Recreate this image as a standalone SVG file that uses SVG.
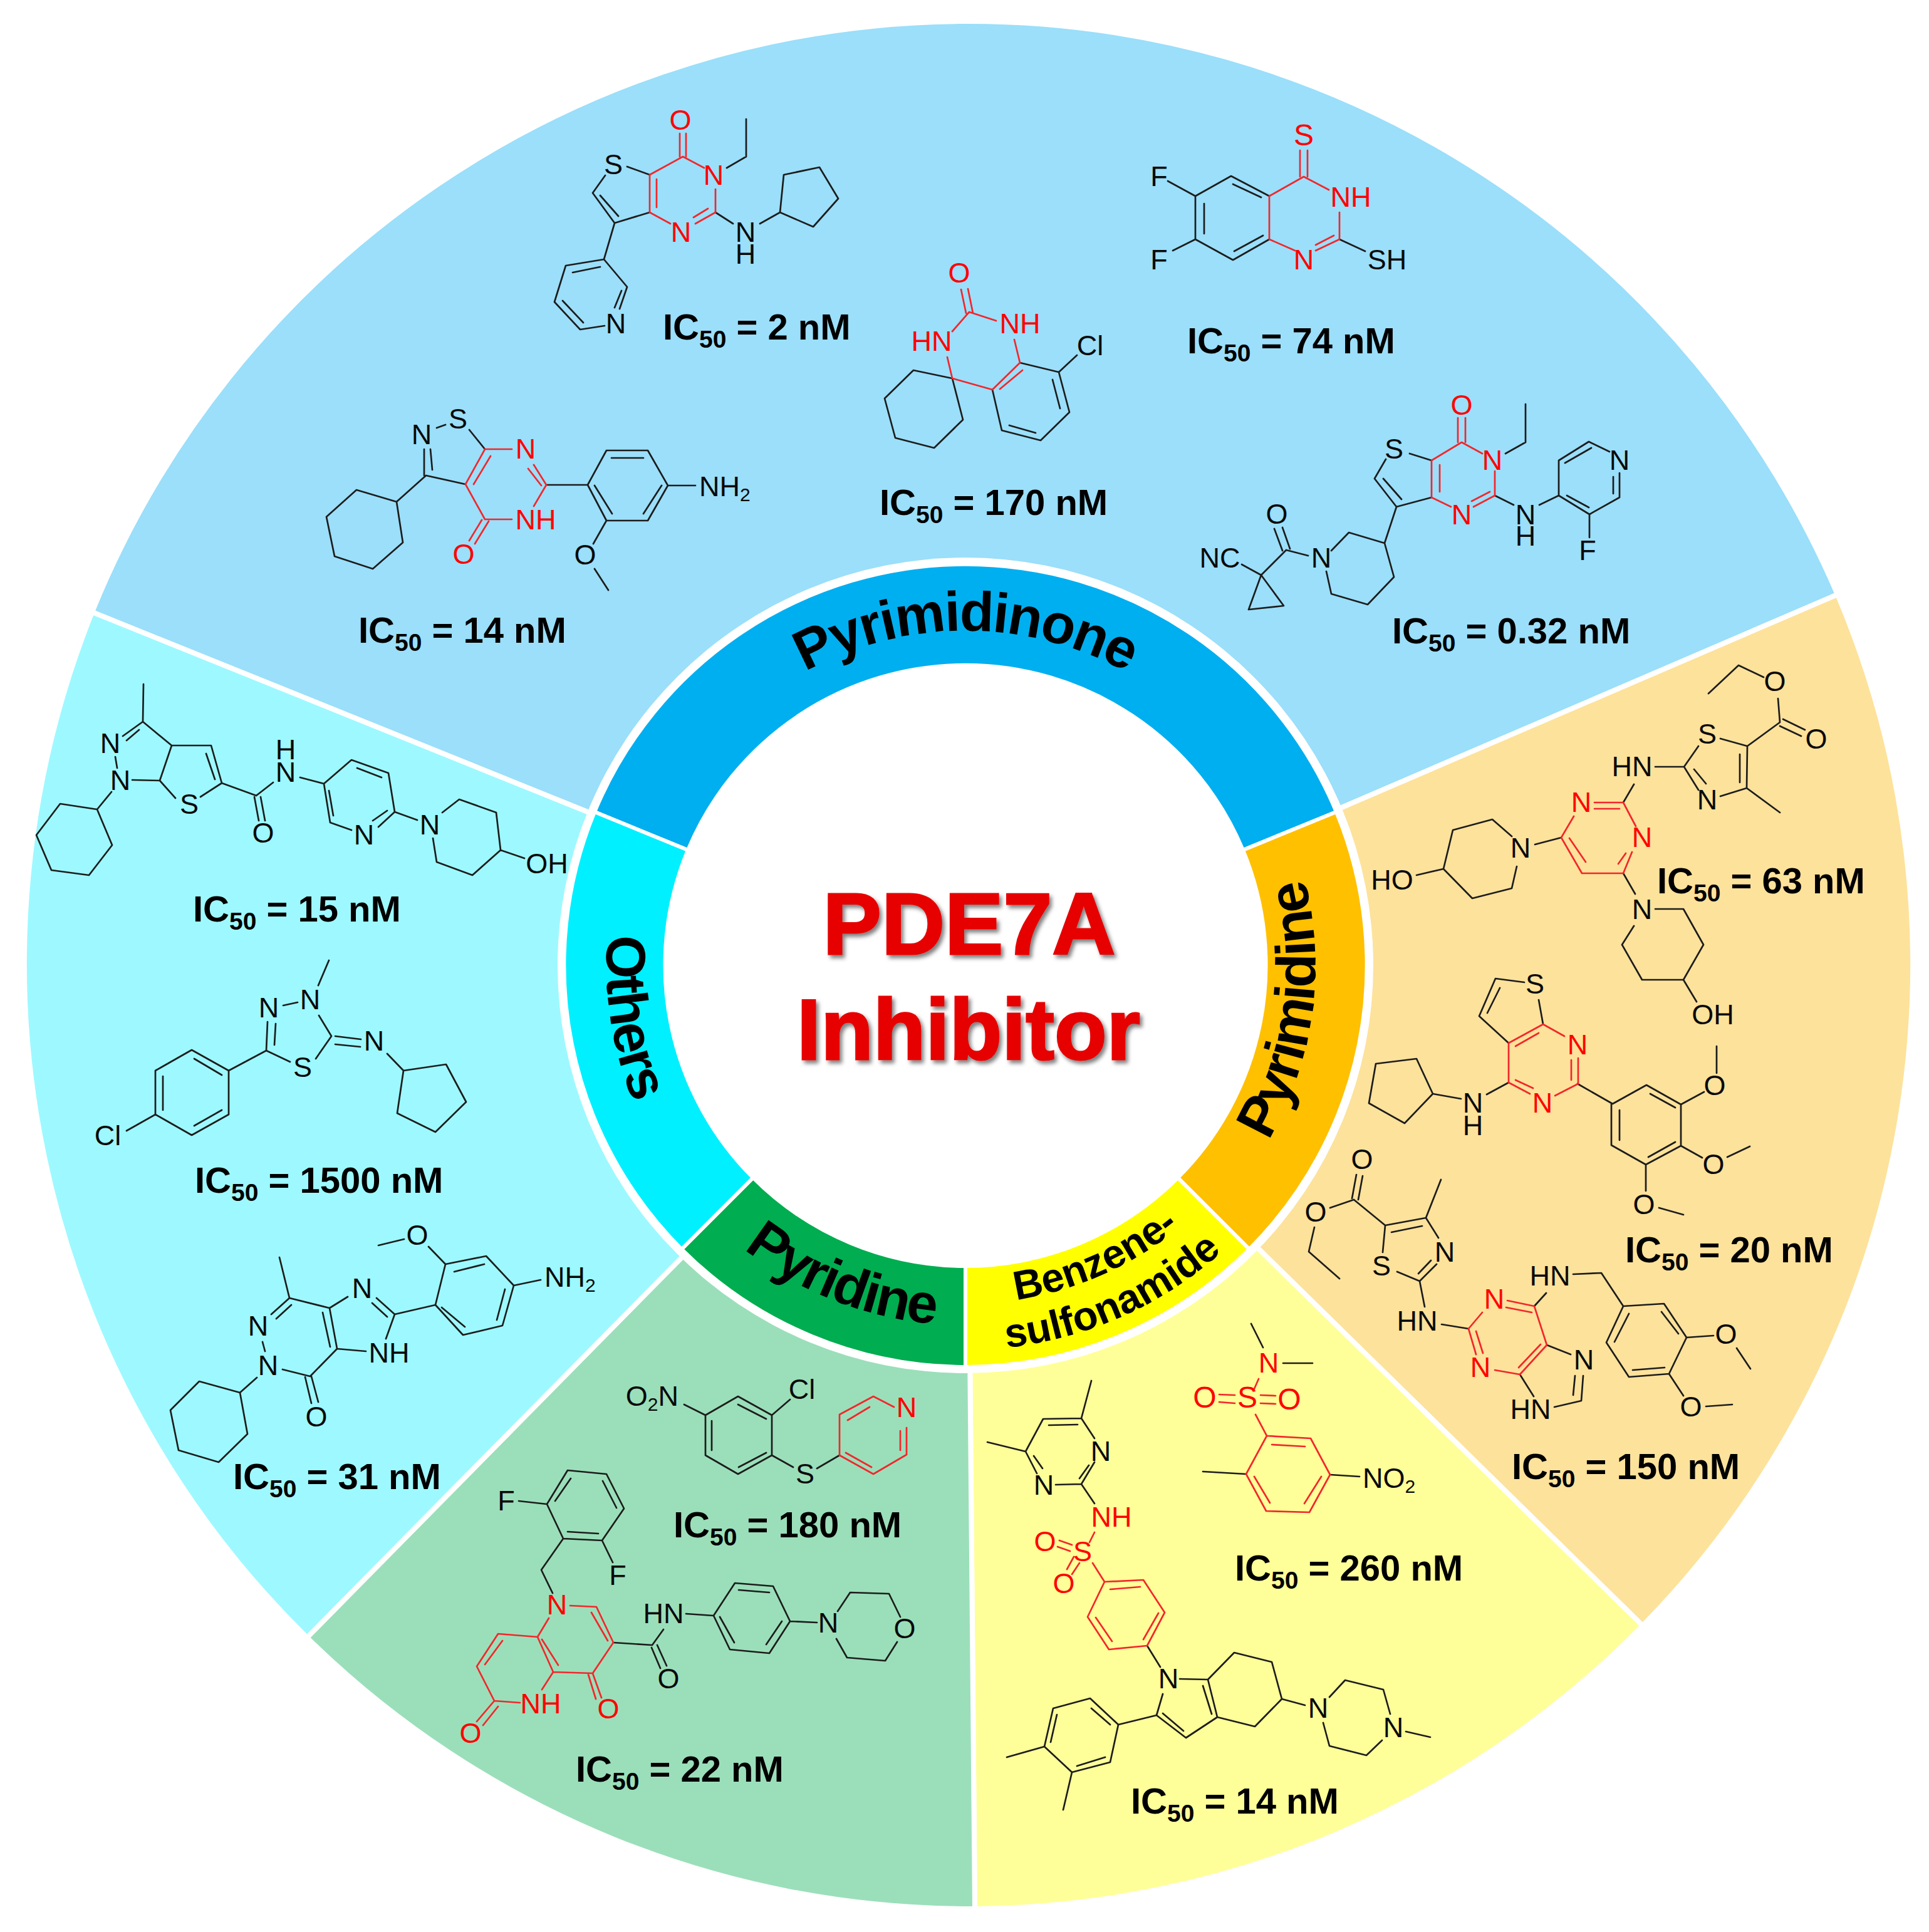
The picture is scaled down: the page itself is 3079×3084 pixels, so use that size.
<svg xmlns="http://www.w3.org/2000/svg" xmlns:xlink="http://www.w3.org/1999/xlink" width="3079" height="3084" viewBox="0 0 3079 3084">
<style>
text{font-family:"Liberation Sans",Arial,sans-serif}
.sec{stroke:#fff;stroke-width:8}
.ring{stroke:#fff;stroke-width:6}
.b,.r{fill:none;stroke-width:2.7;stroke-linecap:round;stroke-linejoin:round}
.b{stroke:#1c1c1c}
.r{stroke:#f3262b}
.a{font-size:45px;text-anchor:middle;fill:#0a0a0a}
.ar{font-size:45px;text-anchor:middle;fill:#f00}
.s{text-anchor:start}
.e{text-anchor:end}
.u{font-size:30px}
.l{font-size:58px;font-weight:bold;fill:#000}
.lu{font-size:39px}
.c{font-size:89px;font-weight:bold;fill:#000;text-anchor:middle;letter-spacing:-2.5px}
.c2{font-size:65px;font-weight:bold;fill:#000;text-anchor:middle}
.t{font-weight:bold;fill:#e60000;text-anchor:middle;stroke:#e60000;stroke-width:3;filter:url(#sh)}
</style>
<defs>
<filter id="sh" x="-10%" y="-20%" width="120%" height="150%"><feDropShadow dx="4" dy="5" stdDeviation="3" flood-color="#000" flood-opacity=".5"/></filter>
<path id="p1" d="M1079 1274A533 533 0 0 1 2003 1274"/>
<path id="p2" d="M1079 1202A573 573 0 0 0 1202 2003"/>
<path id="p3" d="M1877 1987A558 558 0 0 0 1987 1205"/>
<path id="p4" d="M1014 1770A575 575 0 0 0 1770 2068"/>
<path id="p5" d="M1347 2045A540 540 0 0 0 2045 1735"/>
<path id="p6" d="M1321 2114A614 614 0 0 0 2114 1761"/>
</defs>
<rect width="3079" height="3084" fill="#fff"/>
<g id="sectors">
<path class="sec" fill="#9bdffa" d="M147 977A1509 1509 0 0 1 2933 949L2116 1300L1545 1540L970 1309Z"/>
<path class="sec" fill="#fde29b" d="M2933 949A1509 1509 0 0 1 2622 2595L1990 1975L1545 1540L2116 1300Z"/>
<path class="sec" fill="#ffff99" d="M2622 2595A1509 1509 0 0 1 1556 3047L1548 2150L1545 1540L1990 1975Z"/>
<path class="sec" fill="#9bdfba" d="M1556 3047A1509 1509 0 0 1 490 2614L1110 1985L1545 1540L1548 2150Z"/>
<path class="sec" fill="#9df9ff" d="M490 2614A1509 1509 0 0 1 147 977L970 1309L1545 1540L1110 1985Z"/>
</g>
<circle cx="1541" cy="1541" r="651" fill="#fff"/>
<g id="ring">
<path class="ring" fill="#00aff0" d="M949 1296A641 641 0 0 1 2133 1296L1984 1357A480 480 0 0 0 1098 1357Z"/>
<path class="ring" fill="#ffc000" d="M2133 1296A641 641 0 0 1 1994 1994L1880 1880A480 480 0 0 0 1984 1357Z"/>
<path class="ring" fill="#ffff00" d="M1994 1994A641 641 0 0 1 1541 2182V2021A480 480 0 0 0 1880 1880Z"/>
<path class="ring" fill="#00ad50" d="M1541 2182A641 641 0 0 1 1088 1994L1202 1880A480 480 0 0 0 1541 2021Z"/>
<path class="ring" fill="#00f0ff" d="M1088 1994A641 641 0 0 1 949 1296L1098 1357A480 480 0 0 0 1202 1880Z"/>
<text class="c"><textPath href="#p1" startOffset="50%">Pyrimidinone</textPath></text>
<text class="c"><textPath href="#p2" startOffset="50%">Others</textPath></text>
<text class="c"><textPath href="#p3" startOffset="50%">Pyrimidine</textPath></text>
<text class="c"><textPath href="#p4" startOffset="50%">Pyridine</textPath></text>
<text class="c2"><textPath href="#p5" startOffset="50%">Benzene-</textPath></text>
<text class="c2"><textPath href="#p6" startOffset="50%">sulfonamide</textPath></text>
</g>
<g id="title">
<text class="t" x="1547" y="1523" font-size="140">PDE7A</text>
<text class="t" x="1546" y="1691" font-size="137">Inhibitor</text>
</g>
<g id="connectors"></g>
<g id="mol-2nM">
<path class="b" d="M1037 279L1001 266M966 280L946 308L981 356L1037 339M958 312L987 345M981 356L964 414L903 424L885 482L926 526L965 520M964 414L1001 458L989 493M992 464L981 491M914 435L958 426M898 480L931 515M1160 268L1191 250V190M1142 339L1170 357M1213 357L1245 339L1251 279L1308 267L1338 317L1298 362L1245 339"/>
<path class="r" d="M1085 213V250M1095 213V250M1037 279L1090 250L1124 268M1142 302V339L1110 357M1130 333L1107 347M1037 339L1070 357M1037 279V339M1048 286V331"/>
<text class="ar" x="1086" y="207">O</text><text class="ar" x="1139" y="295">N</text><text class="ar" x="1087" y="386">N</text>
<text class="a" x="979" y="278">S</text><text class="a" x="983" y="532">N</text><text class="a"><tspan x="1190" y="386">N</tspan><tspan x="1190" y="421">H</tspan></text>
<text class="l" x="1058" y="542">IC<tspan class="lu" dy="13">50</tspan><tspan dy="-13"> = 2 nM</tspan></text>
</g>
<g id="mol-170nM">
<path class="b" d="M1520 604L1458 591L1412 636L1429 699L1491 715L1537 670L1520 604M1628 579L1690 594L1707 658L1661 703L1599 687L1584 622M1680 606L1692 652M1653 691L1611 679M1690 594L1719 567"/>
<path class="r" d="M1545 461L1553 500M1534 462L1542 500M1590 512L1547 498L1520 529M1512 570L1520 604L1584 622L1628 579L1619 542M1632 591L1596 621"/>
<text class="ar" x="1531" y="451">O</text><text class="ar" x="1628" y="532">NH</text><text class="ar" x="1487" y="560">HN</text><text class="a" x="1740" y="567">Cl</text>
<text class="l" x="1404" y="822">IC<tspan class="lu" dy="13">50</tspan><tspan dy="-13"> = 170 nM</tspan></text>
</g>
<g id="mol-74nM">
<path class="b" d="M2026 313L1965 281L1908 313V382L1968 415L2026 382M1968 294L2013 315M1922 325V373M1970 401L2016 376M1864 289L1908 313M1872 400L1908 382M2138 382L2179 401"/>
<path class="r" d="M2075 240V282M2087 240V282M2026 313L2081 282L2121 303M2138 339V382L2100 400M2129 376L2100 391M2067 400L2026 382V313"/>
<text class="ar" x="2081" y="232" style="font-size:48px">S</text><text class="ar" x="2156" y="330">NH</text><text class="ar" x="2081" y="430">N</text>
<text class="a" x="1850" y="297">F</text><text class="a" x="1850" y="430">F</text><text class="a" x="2214" y="430">SH</text>
<text class="l" x="1895" y="564">IC<tspan class="lu" dy="13">50</tspan><tspan dy="-13"> = 74 nM</tspan></text>
</g>
<g id="mol-032nM">
<path class="b" d="M2285 735L2250 724M2212 733L2194 764L2229 809L2285 794M2208 764L2237 797M2403 724L2435 706V645M2386 791L2416 806M2457 806L2488 791V735L2536 705L2569 721M2585 755V794L2537 821L2488 791M2498 739L2540 715M2575 761V788M2501 791L2536 810M2537 821V858M2229 809L2210 867L2153 850L2125 879M2117 912L2125 948L2183 965L2225 921L2210 867M2088 887L2053 878M2047 842L2059 876M2034 844L2047 879M2053 878L2013 918L1982 901M2013 918L1993 973L2049 967L2013 918"/>
<path class="r" d="M2327 667V706M2339 667V706M2285 735L2333 706L2366 724M2386 752V791L2352 809M2378 785L2349 800M2316 809L2285 794V735M2298 742V785"/>
<text class="ar" x="2333" y="662">O</text><text class="ar" x="2382" y="750">N</text><text class="ar" x="2333" y="837">N</text>
<text class="a" x="2225" y="732">S</text><text class="a"><tspan x="2435" y="837">N</tspan><tspan x="2435" y="871">H</tspan></text><text class="a" x="2585" y="750">N</text><text class="a" x="2534" y="894">F</text><text class="a" x="2109" y="906">N</text><text class="a" x="2038" y="836">O</text><text class="a" x="1947" y="906">NC</text>
<text class="l" x="2222" y="1027">IC<tspan class="lu" dy="13">50</tspan><tspan dy="-13"> = 0.32 nM</tspan></text>
</g>
<g id="mol-14nM-a">
<path class="b" d="M697 683L711 678M749 686L774 717M680 759L743 773M677 717V759M687 717L690 750M680 759L633 801L569 782L521 825L534 888L595 908L643 866L633 801M872 774H938L968 719H1034L1066 775L1034 831H968L938 774M976 731H1027M1056 775L1027 820M977 820L949 775M1066 775H1110M968 831L947 868M949 908L971 942"/>
<path class="r" d="M774 717H817M774 717L743 773L774 829H817M783 728L756 773M852 742L872 774L852 808M843 748L864 775M769 830L749 863M780 832L758 868"/>
<text class="ar" x="839" y="732">N</text><text class="ar" x="855" y="845">NH</text><text class="ar" x="740" y="900">O</text>
<text class="a" x="731" y="684">S</text><text class="a" x="673" y="709">N</text><text class="a" x="934" y="901">O</text><text class="a s" x="1116" y="792">NH<tspan class="u" dy="8">2</tspan></text>
<text class="l" x="572" y="1026">IC<tspan class="lu" dy="13">50</tspan><tspan dy="-13"> = 14 nM</tspan></text>
</g>
<g id="mol-63nM">
<path class="b" d="M2727 1107L2775 1062L2815 1081M2838 1115L2841 1153M2846 1148L2881 1165M2841 1159L2875 1175M2841 1153L2789 1191L2746 1179M2789 1191L2788 1258L2746 1271M2711 1191L2688 1224L2711 1261M2704 1228L2723 1251M2777 1204V1249M2788 1258L2841 1297M2642 1224H2688M2608 1252L2591 1281M2492 1337L2450 1348M2413 1335L2382 1308L2319 1325L2304 1387L2350 1434L2413 1418L2421 1383M2261 1397L2304 1387M2591 1394L2610 1427M2642 1451H2687L2719 1508L2687 1564H2621L2589 1508L2608 1478M2687 1564L2708 1599"/>
<path class="r" d="M2545 1281H2591L2611 1319M2545 1291H2585M2605 1360L2591 1394H2525L2492 1337L2512 1303M2595 1362L2583 1379M2531 1376L2505 1338"/>
<text class="ar" x="2524" y="1296">N</text><text class="ar" x="2621" y="1352">N</text>
<text class="a" x="2833" y="1103">O</text><text class="a" x="2899" y="1195">O</text><text class="a" x="2725" y="1187">S</text><text class="a" x="2725" y="1292">N</text><text class="a" x="2605" y="1239">HN</text><text class="a" x="2427" y="1369">N</text><text class="a" x="2222" y="1420">HO</text><text class="a" x="2621" y="1467">N</text><text class="a" x="2734" y="1635">OH</text>
<text class="l" x="2645" y="1426">IC<tspan class="lu" dy="13">50</tspan><tspan dy="-13"> = 63 nM</tspan></text>
</g>
<g id="mol-20nM">
<path class="b" d="M2433 1568L2387 1562L2361 1622L2408 1665M2394 1577L2374 1617M2456 1596L2463 1635M2408 1728L2373 1747M2332 1754L2287 1746L2261 1690L2196 1698L2185 1761L2242 1793L2287 1746M2518 1730L2574 1762L2628 1732L2683 1763V1829L2627 1859L2572 1828V1762M2634 1746L2674 1768M2585 1772V1820M2674 1823L2631 1847M2683 1763L2720 1743M2740 1713V1670M2683 1829L2717 1848M2757 1847L2793 1830M2627 1859V1901M2648 1928L2687 1939"/>
<path class="r" d="M2408 1665L2463 1635L2497 1654M2419 1670L2456 1649M2508 1692V1724M2519 1689V1730L2482 1749M2442 1746L2408 1728V1665M2447 1737L2419 1724"/>
<text class="ar" x="2518" y="1683">N</text><text class="ar" x="2462" y="1776">N</text>
<text class="a" x="2450" y="1586">S</text><text class="a"><tspan x="2351" y="1776">N</tspan><tspan x="2351" y="1812">H</tspan></text><text class="a" x="2737" y="1748">O</text><text class="a" x="2735" y="1874">O</text><text class="a" x="2624" y="1938">O</text>
<text class="l" x="2594" y="2015">IC<tspan class="lu" dy="13">50</tspan><tspan dy="-13"> = 20 nM</tspan></text>
</g>
<g id="mol-150nM">
<path class="b" d="M2165 1875L2158 1913M2175 1877L2168 1915M2123 1928L2161 1915M2098 1959L2089 1998L2138 2041M2161 1915L2211 1956L2276 1944L2296 1976M2221 1967L2270 1957M2211 1956L2207 1999M2230 2030L2266 2045L2293 2018M2264 2033L2284 2012M2276 1944L2300 1883M2266 2045L2274 2086M2301 2114L2344 2121M2468 2064L2449 2085M2511 2034L2556 2032L2591 2085L2656 2081L2692 2135L2664 2193L2600 2198L2564 2143L2591 2085M2652 2094L2679 2129M2657 2183L2606 2187M2577 2142L2600 2097M2692 2135L2735 2132M2772 2152L2794 2185M2664 2193L2687 2228M2723 2245L2765 2242M2469 2147L2507 2162M2514 2196L2511 2227M2527 2196L2524 2236L2481 2246M2426 2194L2448 2229"/>
<path class="r" d="M2344 2121L2366 2095M2406 2076L2449 2085L2469 2147L2426 2194L2386 2187M2404 2087L2445 2095M2459 2146L2424 2183M2344 2121L2356 2162M2356 2125L2367 2160"/>
<text class="ar" x="2385" y="2089">N</text><text class="ar" x="2363" y="2198">N</text>
<text class="a" x="2174" y="1866">O</text><text class="a" x="2100" y="1950">O</text><text class="a" x="2205" y="2036">S</text><text class="a" x="2306" y="2014">N</text><text class="a" x="2262" y="2124">HN</text><text class="a" x="2474" y="2052">HN</text><text class="a" x="2755" y="2145">O</text><text class="a" x="2699" y="2261">O</text><text class="a" x="2528" y="2186">N</text><text class="a" x="2443" y="2265">HN</text>
<text class="l" x="2413" y="2361">IC<tspan class="lu" dy="13">50</tspan><tspan dy="-13"> = 150 nM</tspan></text>
</g>
<g id="mol-260nM">
<path class="b" d="M1997 2113L2016 2151M2048 2176H2095M1989 2353L1920 2349M2123 2354L2170 2357"/>
<path class="r" d="M2009 2201L2002 2217M1946 2226L1971 2227M1946 2238L1971 2240M2012 2227L2036 2228M2012 2240L2036 2241M2004 2258L2022 2292L2092 2296L2123 2354L2090 2414L2021 2412L1989 2353L2022 2292M2030 2306L2083 2309M2109 2357L2082 2400M2027 2399L2002 2357"/>
<text class="ar" x="2025" y="2191">N</text><text class="ar" x="1991" y="2247" style="font-size:48px">S</text><text class="ar" x="1923" y="2247" style="font-size:48px">O</text><text class="ar" x="2058" y="2250" style="font-size:48px">O</text>
<text class="a s" x="2175" y="2375">NO<tspan class="u" dy="8">2</tspan></text>
<text class="l" x="1971" y="2523">IC<tspan class="lu" dy="13">50</tspan><tspan dy="-13"> = 260 nM</tspan></text>
</g>
<g id="mol-14nM-b">
<path class="b" d="M1742 2204L1726 2264L1665 2265L1637 2317L1655 2352M1726 2264L1747 2296M1674 2275L1720 2274M1747 2334L1726 2369L1685 2370M1738 2339L1723 2360M1650 2324L1664 2344M1637 2317L1576 2302M1726 2369L1747 2400M1831 2627L1852 2661M1883 2680L1928 2681L1943 2741L1893 2774L1846 2738L1856 2704M1920 2691L1934 2736M1889 2763L1856 2735M1928 2681L1970 2638L2030 2653L2046 2712L2003 2756L1943 2741M2046 2712L2083 2722M2122 2709L2147 2682L2208 2697L2219 2736M2206 2778L2181 2802L2122 2787L2112 2750M2244 2764L2283 2773M1846 2738L1785 2753L1740 2711L1681 2727L1667 2788L1711 2829L1772 2813L1785 2753M1742 2727L1772 2753M1687 2737L1677 2781M1719 2819L1764 2805M1667 2788L1607 2805M1711 2829L1697 2889"/>
<path class="r" d="M1747 2446L1739 2462M1691 2459L1711 2466M1688 2469L1708 2476M1703 2505L1714 2485M1711 2513L1723 2495M1744 2495L1763 2525L1825 2522L1859 2574L1831 2627L1770 2633L1736 2581L1763 2525M1772 2537L1820 2533M1849 2575L1825 2617M1775 2620L1749 2582"/>
<text class="a" x="1757" y="2332">N</text><text class="a" x="1666" y="2386">N</text><text class="ar" x="1774" y="2437">NH</text><text class="ar" x="1728" y="2492">S</text><text class="ar" x="1668" y="2476">O</text><text class="ar" x="1698" y="2543">O</text>
<text class="a" x="1865" y="2695">N</text><text class="a" x="2104" y="2742">N</text><text class="a" x="2224" y="2773">N</text>
<text class="l" x="1805" y="2895">IC<tspan class="lu" dy="13">50</tspan><tspan dy="-13"> = 14 nM</tspan></text>
</g>
<g id="mol-180nM">
<path class="b" d="M1092 2242L1126 2259L1178 2229L1232 2259V2323L1178 2353L1126 2323V2259M1178 2242L1223 2265M1136 2268V2315M1179 2342L1223 2319M1232 2259L1261 2234M1232 2323L1266 2342M1304 2344L1340 2323"/>
<path class="r" d="M1340 2323V2258L1394 2229L1427 2246M1447 2279V2322L1394 2353L1340 2323M1437 2284V2315M1391 2342L1350 2319M1353 2267L1388 2246"/>
<text class="ar" x="1447" y="2262">N</text>
<text class="a e" x="1083" y="2244">O<tspan class="u" dy="8">2</tspan><tspan dy="-8">N</tspan></text><text class="a" x="1280" y="2233">Cl</text><text class="a" x="1285" y="2368">S</text>
<text class="l" x="1075" y="2454">IC<tspan class="lu" dy="13">50</tspan><tspan dy="-13"> = 180 nM</tspan></text>
</g>
<g id="mol-22nM">
<path class="b" d="M828 2396L873 2401L906 2347L968 2353L996 2408L961 2459L899 2456L873 2401M886 2396L911 2360M962 2364L984 2407M955 2448L906 2445M961 2459L978 2494M899 2456L864 2506L882 2543M979 2622L1041 2626M1040 2630L1054 2663M1049 2626L1064 2659M1041 2626L1059 2601M1095 2576L1139 2579L1173 2527L1234 2532L1261 2588L1228 2639L1165 2633L1139 2579M1179 2538L1228 2542M1248 2588L1223 2625M1172 2622L1149 2581M1261 2588L1304 2590M1337 2572L1357 2542L1419 2544L1437 2581M1432 2621L1413 2651L1352 2646L1335 2616"/>
<path class="r" d="M910 2563L952 2565L979 2622L946 2671L883 2669L858 2613L876 2583M944 2574L970 2619M891 2658L865 2617M858 2613L795 2608L761 2660L789 2715L830 2718M802 2619L774 2657M883 2669L865 2697M789 2715L761 2748M795 2724L771 2754M946 2671L960 2710M939 2673L951 2712"/>
<text class="ar" x="889" y="2577">N</text><text class="ar" x="863" y="2735">NH</text><text class="ar" x="751" y="2782">O</text><text class="ar" x="971" y="2743">O</text>
<text class="a" x="808" y="2411">F</text><text class="a" x="986" y="2530">F</text><text class="a" x="1059" y="2591">HN</text><text class="a" x="1067" y="2695">O</text><text class="a" x="1322" y="2606">N</text><text class="a" x="1444" y="2615">O</text>
<text class="l" x="919" y="2844">IC<tspan class="lu" dy="13">50</tspan><tspan dy="-13"> = 22 nM</tspan></text>
</g>
<g id="mol-15nM">
<path class="b" d="M229 1092L228 1152L274 1190H337L354 1250L320 1272M329 1203L343 1244M280 1274L255 1246L274 1190M255 1246L211 1245M228 1152L196 1175M222 1165L202 1182M184 1208L187 1226M178 1264L155 1292L96 1283L58 1333L82 1389L142 1397L179 1349L155 1292M354 1250L409 1270M406 1272L413 1310M416 1272L423 1310M409 1270L436 1249M479 1241L517 1251L561 1213L620 1234L630 1296L604 1320M570 1226L609 1241M618 1294L595 1310M517 1251L527 1313L561 1325M532 1302L525 1262M630 1296L666 1309M706 1297L733 1276L792 1297L799 1357L754 1397L697 1376L691 1338M799 1357L837 1370"/>
<text class="a" x="302" y="1299">S</text><text class="a" x="192" y="1261">N</text><text class="a" x="176" y="1202">N</text><text class="a" x="420" y="1345">O</text><text class="a"><tspan x="456" y="1212">H</tspan><tspan x="456" y="1248">N</tspan></text><text class="a" x="581" y="1348">N</text><text class="a" x="686" y="1332">N</text><text class="a" x="873" y="1394">OH</text>
<text class="l" x="308" y="1471">IC<tspan class="lu" dy="13">50</tspan><tspan dy="-13"> = 15 nM</tspan></text>
</g>
<g id="mol-1500nM">
<path class="b" d="M525 1533L508 1573M452 1605L475 1600M509 1621L529 1654L504 1690M463 1695L425 1677L427 1631M438 1668L440 1634M535 1654L576 1659M535 1667L575 1671M618 1682L644 1709L712 1699L744 1759L695 1807L634 1777L644 1709M425 1677L365 1709L306 1676L248 1709V1779L306 1812L365 1779V1709M310 1690L354 1716M260 1718V1772M310 1797L354 1772M202 1805L248 1779"/>
<text class="a" x="495" y="1611">N</text><text class="a" x="429" y="1624">N</text><text class="a" x="483" y="1719">S</text><text class="a" x="597" y="1677">N</text><text class="a" x="172" y="1828">Cl</text>
<text class="l" x="311" y="1904">IC<tspan class="lu" dy="13">50</tspan><tspan dy="-13"> = 1500 nM</tspan></text>
</g>
<g id="mol-31nM">
<path class="b" d="M604 1988L645 1978M684 1990L711 2018L776 2005L820 2052L802 2116L739 2131L695 2083L711 2018M725 2030L773 2018M806 2058L793 2107M742 2118L705 2087M820 2052L863 2043M695 2083L630 2098L601 2072M594 2080L618 2102M555 2070L526 2088L538 2153L584 2157M515 2095L527 2150M630 2098L616 2137M526 2088L462 2072L446 2007M462 2072L433 2098M465 2083L441 2105M419 2142L423 2157M451 2186L495 2197L538 2153M487 2198L497 2240M497 2197L508 2238M410 2199L383 2223L318 2205L272 2251L285 2315L349 2334L395 2289L383 2223"/>
<text class="a" x="666" y="1987">O</text><text class="a s" x="869" y="2054">NH<tspan class="u" dy="8">2</tspan></text><text class="a" x="578" y="2072">N</text><text class="a" x="621" y="2175">NH</text><text class="a" x="412" y="2132">N</text><text class="a" x="428" y="2195">N</text><text class="a" x="505" y="2277">O</text>
<text class="l" x="372" y="2377">IC<tspan class="lu" dy="13">50</tspan><tspan dy="-13"> = 31 nM</tspan></text>
</g>
</svg>
